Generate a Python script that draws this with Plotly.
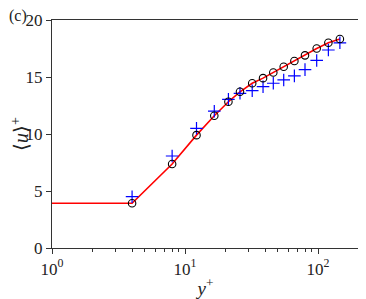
import plotly.graph_objects as go

# data
y_plus = [4, 8, 12.2, 16.6, 21.2, 25.9, 32, 38.6, 46.1, 55.2, 66.4, 79.8, 97.7, 119.6, 146]
u_circ = [3.92, 7.37, 9.9, 11.6, 12.83, 13.7, 14.45, 14.9, 15.4, 15.9, 16.4, 16.9, 17.5, 18.0, 18.33]
u_cross = [4.5, 8.07, 10.5, 12.0, 13.04, 13.57, 13.8, 14.15, 14.45, 14.74, 15.1, 15.65, 16.45, 17.37, 18.0]
line_x = [1] + y_plus
line_y = [3.92] + u_circ

x_tickvals = [1, 10, 100]
x_ticktext = ["10<sup>0</sup>", "10<sup>1</sup>", "10<sup>2</sup>"]
x_minor_tickvals = [2, 3, 4, 5, 6, 7, 8, 9, 20, 30, 40, 50, 60, 70, 80, 90, 200]
y_tickvals = [0, 5, 10, 15, 20]

font_fam = "Liberation Serif"

fig = go.Figure()
fig.add_trace(go.Scatter(x=line_x, y=line_y, mode="lines",
                         line=dict(color="red", width=1.6), showlegend=False))
fig.add_trace(go.Scatter(x=y_plus, y=u_cross, mode="markers",
                         marker=dict(symbol="cross-thin-open", size=9,
                                     line=dict(color="blue", width=1.2), color="blue"),
                         showlegend=False))
fig.add_trace(go.Scatter(x=y_plus, y=u_circ, mode="markers",
                         marker=dict(symbol="circle-open", size=7.5,
                                     line=dict(color="black", width=1.1), color="black"),
                         showlegend=False))

axis_common = dict(showline=True, linecolor="#333", linewidth=1.2, mirror=True,
                   showgrid=False, zeroline=False, ticks="outside",
                   tickcolor="#333", tickfont=dict(family=font_fam, size=17, color="#222"))

fig.update_xaxes(type="log", range=[0, 2.308], tickvals=x_tickvals, ticktext=x_ticktext,
                 ticklen=5,
                 minor=dict(tickmode="array", tickvals=x_minor_tickvals, ticks="outside",
                            ticklen=3, tickcolor="#333", showgrid=False),
                 title=dict(text="<i>y</i><sup>+</sup>", font=dict(family=font_fam, size=19, color="#222"),
                            standoff=2),
                 automargin=False,
                 **axis_common)
fig.update_yaxes(range=[0, 20], tickvals=y_tickvals, ticklen=5,
                 title=dict(text="⟨<i>u</i>⟩<sup>+</sup>", font=dict(family=font_fam, size=20, color="#222"),
                            standoff=2),
                 automargin=False,
                 **axis_common)

fig.add_annotation(text="(c)", x=0, y=1, xref="paper", yref="paper", xanchor="left", yanchor="middle",
                   xshift=-45, yshift=4, showarrow=False,
                   font=dict(family=font_fam, size=16, color="#222"))

# page body has ~8px default margin; compensate so plot area lands where the reference's does
fig.update_layout(width=358, height=291, margin=dict(l=44, r=7, t=12, b=51),
                  plot_bgcolor="white", paper_bgcolor="white")

fig.write_html("out.html")
